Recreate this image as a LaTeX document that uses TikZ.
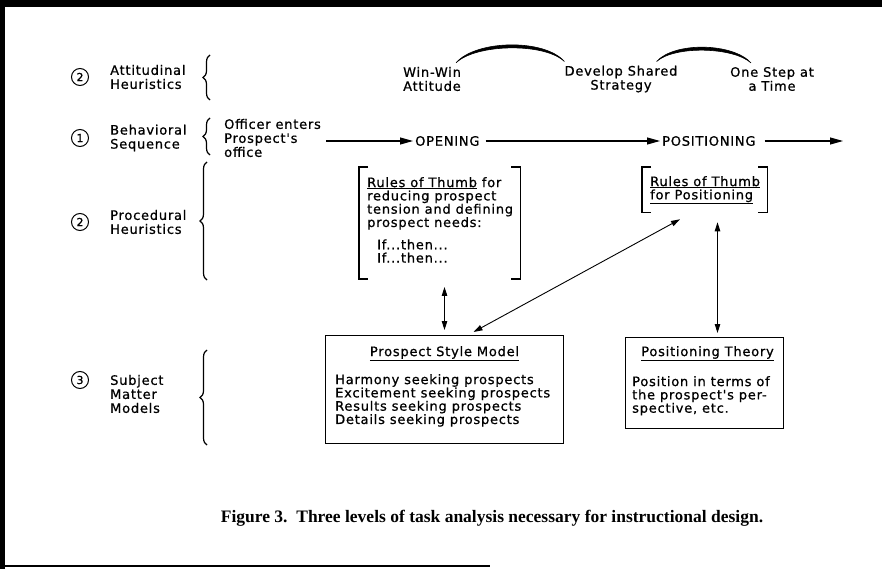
\documentclass[tikz,border=0pt]{standalone}
\usepackage{fontspec}
\setmainfont{Liberation Serif}
\newfontfamily\gothic[LetterSpace=6,FakeBold=0.8]{DejaVu Sans}
\usetikzlibrary{arrows.meta,decorations.pathreplacing,calc}
\begin{document}
\begin{tikzpicture}[x=1pt,y=-1pt,
  every node/.style={inner sep=0pt},
  lbl/.style={anchor=west, align=left, font=\gothic\fontsize{13}{14}\selectfont},
  body/.style={anchor=north west, align=left, font=\gothic\fontsize{13}{13.3}\selectfont},
  stage/.style={anchor=west, font=\gothic\fontsize{13}{14}\selectfont},
  num/.style={circle, draw, line width=1pt, minimum size=17pt, font=\gothic\fontsize{11}{11}\selectfont},
  brc/.style={decorate, decoration={brace, amplitude=7pt}, line width=1.2pt},
  flow/.style={-{Triangle[length=13pt,width=7pt]}, line width=1.1pt, shorten >=2pt},
  dbl/.style={{Triangle[length=9pt,width=5.5pt]}-{Triangle[length=9pt,width=5.5pt]}, line width=0.9pt},
  brk/.style={line width=1.1pt},
  box/.style={draw, line width=1pt},
  link/.style={line width=0.6pt, fill=black},
]
\useasboundingbox (0,0) rectangle (882,569);
% page frame
\fill (0,0) rectangle (882,7);
\fill (0,0) rectangle (5,569);
\draw[line width=1.5pt] (0,566) -- (490,566);

% level: attitudinal heuristics
\node[num] (n2a) at (80,77) {2};
\node[lbl] (attl) at (110,77) {Attitudinal\\Heuristics};
\draw[brc] (210,100) -- (210,55);
\node[lbl] (ww) at (403,79) {Win-Win\\Attitude};
\node[lbl, anchor=center, align=center] (dss) at (621,79) {Develop Shared\\Strategy};
\node[lbl, anchor=center, align=center] (ost) at (772,79) {One Step at\\a Time};
% crescent-shaped arcs joining the attitudes
\draw[link] ($(ww.north east)+(-5,-4)$) coordinate (a1)
   .. controls +(20,-23) and +(-20,-23) .. ($(dss.north west)+(0,-4)$) coordinate (b1)
   .. controls +(-20,-19) and +(20,-19) .. (a1) -- cycle;
\draw[link] ($(dss.north east)+(-21,-4)$) coordinate (a2)
   .. controls +(18,-20) and +(-18,-20) .. ($(ost.north west)+(21,-4)$) coordinate (b2)
   .. controls +(-18,-16) and +(18,-16) .. (a2) -- cycle;

% level: behavioral sequence
\node[num] (n1) at (80,138) {1};
\node[lbl] (behl) at (110,138) {Behavioral\\Sequence};
\draw[brc] (210,155) -- (210,118);
\node[lbl] (enter) at (224,138) {Officer enters\\Prospect's\\office};
\node[stage] (open) at (415,141) {OPENING};
\node[stage] (posn) at (662,141) {POSITIONING};
\coordinate (onward) at (845,141);
\draw[flow] ($(enter.east |- open.west)+(5,0)$) -- (open.west);
\draw[flow] ($(open.east)+(6,0)$) -- (posn.west);
\draw[flow] ($(posn.east)+(9,0)$) -- (onward);

% level: procedural heuristics
\node[num] (n2b) at (80,222) {2};
\node[lbl] (procl) at (110,222) {Procedural\\Heuristics};
\draw[brc] (207,280) -- (207,162);

\node[body] (rules1) at (367,177) {\underline{Rules of Thumb} for\\reducing prospect\\tension and defining\\prospect needs:\\[9pt]\hspace*{10pt}If...then...\\\hspace*{10pt}If...then...};
\draw[brk] ($(rules1.north west)+(1,-10)$) -- ($(rules1.north west)+(-8,-10)$) -- ($(rules1.south west)+(-8,16)$) -- ($(rules1.south west)+(1,16)$);
\draw[brk] ($(rules1.north east)+(-2,-10)$) -- ($(rules1.north east)+(7,-10)$) -- ($(rules1.south east)+(7,16)$) -- ($(rules1.south east)+(-2,16)$);

\node[body] (rules2) at (650,176) {\underline{Rules of Thumb}\\\underline{for Positioning}};
\draw[brk] ($(rules2.north west)+(1,-9)$) -- ($(rules2.north west)+(-8,-9)$) -- ($(rules2.south west)+(-8,8)$) -- ($(rules2.south west)+(1,8)$);
\draw[brk] ($(rules2.north east)+(-2,-9)$) -- ($(rules2.north east)+(7,-9)$) -- ($(rules2.south east)+(7,8)$) -- ($(rules2.south east)+(-2,8)$);

% level: subject matter models
\node[num] (n3) at (80,380) {3};
\node[lbl] (subl) at (110,394) {Subject\\Matter\\Models};
\draw[brc] (207,445) -- (207,350);

\node[box, minimum width=238pt, minimum height=108pt, anchor=north west] (psm) at (325,335) {};
\node[font=\gothic\fontsize{13}{14}\selectfont, anchor=north] (psmt) at ($(psm.north)+(0,11)$) {\underline{Prospect Style Model}};
\node[body] (psml) at ($(psm.north west)+(10,39)$) {Harmony seeking prospects\\Excitement seeking prospects\\Results seeking prospects\\Details seeking prospects};

\node[box, minimum width=158pt, minimum height=91pt, anchor=north west] (pt) at (625,337) {};
\node[font=\gothic\fontsize{13}{14}\selectfont, anchor=north] (ptt) at ($(pt.north)+(3,9)$) {\underline{Positioning Theory}};
\node[body] (ptl) at ($(pt.north west)+(7,39)$) {Position in terms of\\the prospect's per-\\spective, etc.};

% links between the levels
\draw[dbl, shorten <=5pt, shorten >=24pt] (psm.north) -- (psm.north |- rules1.south);
\draw[dbl] ($(psm.north)+(29,-3)$) -- ($(rules2.south west)+(30,15)$);
\draw[dbl] ($(pt.north)+(13,-4)$) -- ($(pt.north |- rules2.south)+(13,18)$);

% caption
\node[font=\bfseries\fontsize{17.5}{17.5}\selectfont] (cap) at (492,518) {Figure 3.\ \ Three levels of task analysis necessary for instructional design.};
\end{tikzpicture}
\end{document}
